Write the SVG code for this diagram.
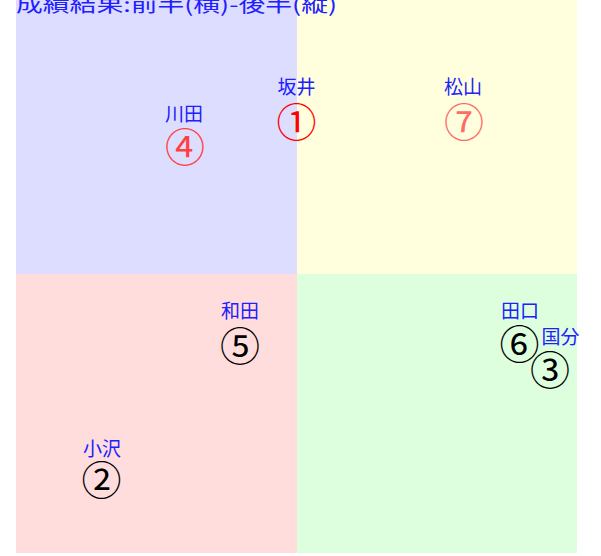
<svg xmlns="http://www.w3.org/2000/svg" width="601" height="556" viewBox="0 0 601 556">
<style>
.lbl{font-family:"Noto Sans CJK JP","Noto Sans CJK SC",sans-serif;font-size:19px;fill:#2020ff;text-anchor:middle}
.num{font-family:"DejaVu Serif","Noto Sans CJK JP",serif;font-size:40px;text-anchor:middle;dominant-baseline:central}
.title{font-family:"Noto Sans CJK JP","Noto Sans CJK SC",sans-serif;font-size:20px;fill:#2020ff}
</style>
<rect width="601" height="556" fill="#ffffff"/>
<g id="quadrants">
<rect x="16" y="0" width="281" height="274" fill="#ddddff"/>
<rect x="297" y="0" width="280" height="274" fill="#ffffdd"/>
<rect x="16" y="274" width="281" height="279" fill="#ffdddd"/>
<rect x="297" y="274" width="280" height="279" fill="#ddffdd"/>
</g>
<text class="title" x="16" y="12" textLength="321" lengthAdjust="spacingAndGlyphs">成績結果:前半(横)-後半(縦)</text>
<g id="connectors"></g>
<g id="sakai"><text class="lbl" x="296.5" y="94">坂井</text><text class="num" x="296.5" y="123" fill="#ff0000">①</text></g>
<g id="kawada"><text class="lbl" x="184" y="121">川田</text><text class="num" x="185" y="148" fill="#ff4040">④</text></g>
<g id="matsuyama"><text class="lbl" x="463" y="94">松山</text><text class="num" x="464" y="123" fill="#ff6a6a">⑦</text></g>
<g id="wada"><text class="lbl" x="240" y="318">和田</text><text class="num" x="240" y="347" fill="#000000">⑤</text></g>
<g id="taguchi"><text class="lbl" x="520" y="318">田口</text><text class="num" x="519.5" y="345" fill="#000000">⑥</text></g>
<g id="kokubu"><text class="lbl" x="560.5" y="344">国分</text><text class="num" x="550" y="371" fill="#000000">③</text></g>
<g id="ozawa"><text class="lbl" x="102" y="456">小沢</text><text class="num" x="101.5" y="481" fill="#000000">②</text></g>
</svg>
